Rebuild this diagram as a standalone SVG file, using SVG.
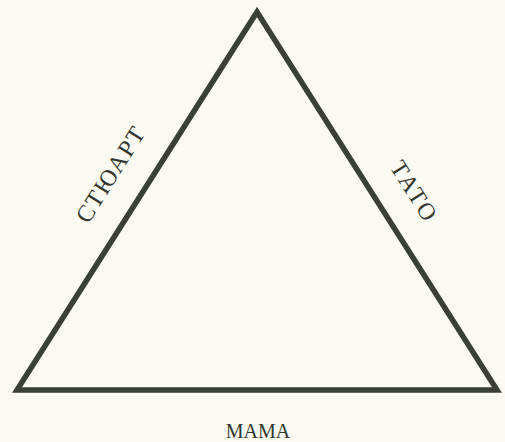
<svg xmlns="http://www.w3.org/2000/svg" width="505" height="442" viewBox="0 0 505 442">
  <style>
    .edge { fill: none; stroke: #3a4036; stroke-width: 5.5; stroke-linejoin: miter; }
    .lbl { font-family: "Liberation Serif", "DejaVu Serif", serif; font-size: 20px; fill: #33362f; text-anchor: middle; }
    .big { font-size: 24px; }
  </style>
  <rect width="505" height="442" fill="#fafaf2"/>
  <g id="connectors">
    <polygon class="edge" points="257,12 497,390 17,390"/>
  </g>
  <g id="stuart">
    <text class="lbl big" transform="translate(117,179) rotate(-57.7)" textLength="108" lengthAdjust="spacing">СТЮАРТ</text>
  </g>
  <g id="tato">
    <text class="lbl big" transform="translate(407,195) rotate(57.7)" textLength="66" lengthAdjust="spacing">ТАТО</text>
  </g>
  <g id="mama">
    <text class="lbl" x="258" y="438">МАМА</text>
  </g>
</svg>
